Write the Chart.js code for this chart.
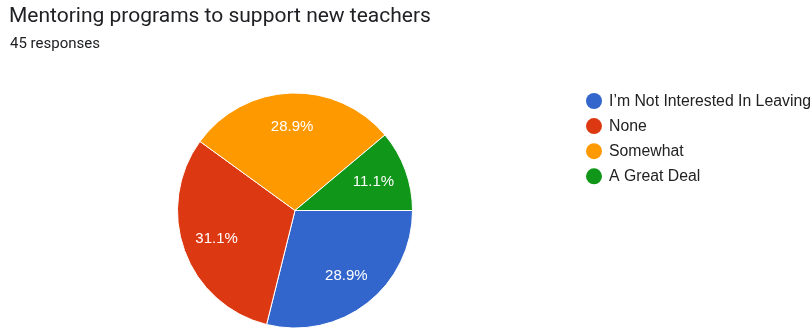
<!DOCTYPE html>
<html>
<head>
<meta charset="utf-8">
<script src="https://cdn.jsdelivr.net/npm/chart.js@4/dist/chart.umd.min.js"></script>
<style>
  html, body { margin: 0; padding: 0; background: #fff; }
  body { width: 812px; height: 328px; position: relative; overflow: hidden; }
  #title { position: absolute; left: 9px; top: 3px; font-family: Roboto, "Liberation Sans", sans-serif; font-size: 21px; color: #202124; white-space: nowrap; }
  #sub { position: absolute; left: 10px; top: 34px; font-family: Roboto, "Liberation Sans", sans-serif; font-size: 15px; color: #202124; white-space: nowrap; }
  #wrap { position: absolute; left: 0; top: 0; width: 812px; height: 328px; }
</style>
</head>
<body>
<div id="wrap"><canvas id="c" width="812" height="328"></canvas></div>
<div id="title">Mentoring programs to support new teachers</div>
<div id="sub">45 responses</div>
<script>
const categories = ["I\u2019m Not Interested In Leaving", "None", "Somewhat", "A Great Deal"];
const responses = [13, 14, 13, 5];
const sliceColors = ["#3366cc", "#dc3912", "#ff9900", "#109618"];

const total = responses.reduce((a, b) => a + b, 0);

// Percentage text inside each slice
const sliceLabels = {
  id: 'sliceLabels',
  afterDatasetsDraw(chart) {
    const ctx = chart.ctx;
    const meta = chart.getDatasetMeta(0);
    ctx.save();
    ctx.font = '15px "Liberation Sans", Arial, sans-serif';
    ctx.fillStyle = '#ffffff';
    ctx.textAlign = 'center';
    ctx.textBaseline = 'middle';
    meta.data.forEach((arc, i) => {
      const p = arc.getProps(['x', 'y', 'startAngle', 'endAngle', 'outerRadius'], true);
      const mid = (p.startAngle + p.endAngle) / 2;
      const r = p.outerRadius * 0.71;
      const pct = (responses[i] / total * 100).toFixed(1) + '%';
      ctx.fillText(pct, p.x + Math.cos(mid) * r, p.y + Math.sin(mid) * r);
    });
    ctx.restore();
  }
};

// Legend with round markers to the right of the pie
const sideLegend = {
  id: 'sideLegend',
  afterDraw(chart) {
    const ctx = chart.ctx;
    ctx.save();
    ctx.font = '15.8px "Liberation Sans", Arial, sans-serif';
    ctx.textBaseline = 'middle';
    ctx.textAlign = 'left';
    categories.forEach((name, i) => {
      const y = 101 + i * 25.1;
      ctx.beginPath();
      ctx.arc(594, y, 8, 0, Math.PI * 2);
      ctx.fillStyle = sliceColors[i];
      ctx.fill();
      ctx.fillStyle = '#222222';
      ctx.fillText(name, 609, y + 0.5);
    });
    ctx.restore();
  }
};

new Chart(document.getElementById('c'), {
  type: 'pie',
  data: {
    labels: categories,
    datasets: [{
      data: responses,
      backgroundColor: sliceColors,
      borderColor: '#ffffff',
      borderWidth: 1
    }]
  },
  options: {
    responsive: false,
    animation: false,
    rotation: 90,
    radius: 117.5,
    layout: { padding: { left: 177, right: 399, top: 93, bottom: 0 } },
    plugins: {
      legend: { display: false },
      tooltip: { enabled: false },
      title: { display: false }
    }
  },
  plugins: [sliceLabels, sideLegend]
});
</script>
</body>
</html>
